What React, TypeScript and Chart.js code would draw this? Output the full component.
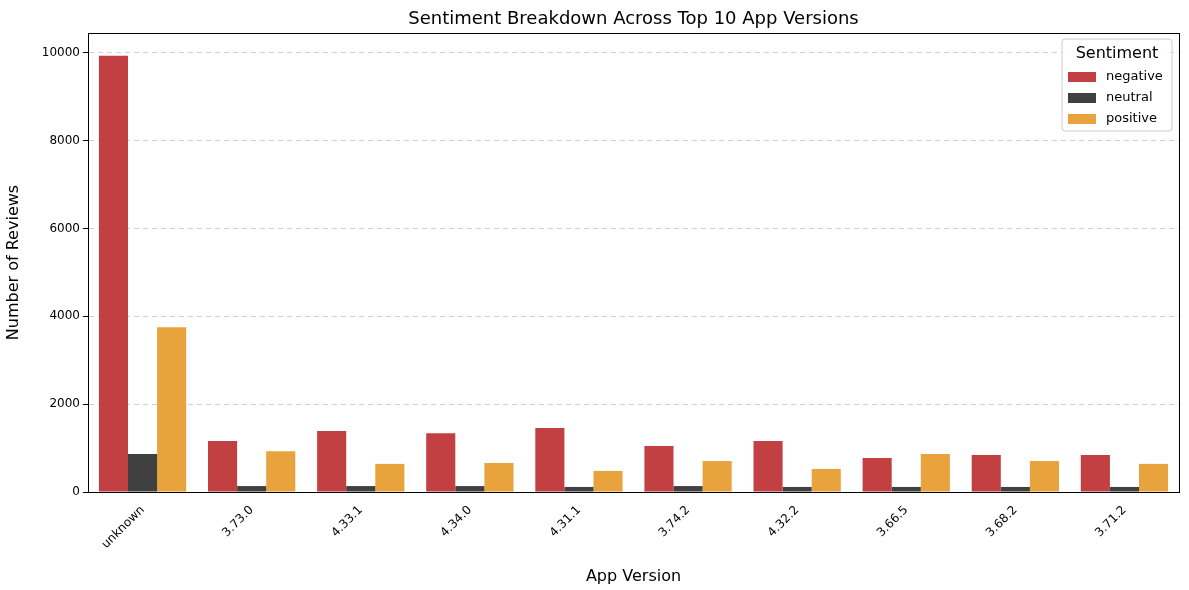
import React, { useEffect, useRef } from "react";
import { Chart, registerables } from "chart.js";
Chart.register(...registerables);

const categories = ["unknown","3.73.0","4.33.1","4.34.0","4.31.1","3.74.2","4.32.2","3.66.5","3.68.2","3.71.2"];
const negative = [9930,1160,1390,1340,1455,1045,1160,775,840,840];
const neutral = [865,135,135,135,115,135,115,115,115,115];
const positive = [3750,930,640,660,480,705,525,865,705,640];
const yTicks = [0,2000,4000,6000,8000,10000];
const colors = ["#c23f42","#404040","#e8a33c"];
const names = ["negative","neutral","positive"];

const deco = {
  id: "deco",
  afterDraw(chart: any) {
    const { ctx, chartArea: a } = chart;
    ctx.save();
    ctx.strokeStyle = "#000"; ctx.lineWidth = 1;
    ctx.strokeRect(a.left + 0.5, a.top + 0.5, a.right - a.left, a.bottom - a.top);
    ctx.fillStyle = "#000"; ctx.font = "18px 'DejaVu Sans'"; ctx.textAlign = "center"; ctx.textBaseline = "middle";
    ctx.fillText("Sentiment Breakdown Across Top 10 App Versions", (a.left + a.right) / 2, 19);
    // legend
    const w = 110, h = 92, x = a.right - w - 7, y = a.top + 6;
    ctx.fillStyle = "rgba(255,255,255,0.85)"; ctx.strokeStyle = "#ccc";
    ctx.beginPath(); ctx.roundRect(x, y, w, h, 3); ctx.fill(); ctx.stroke();
    ctx.fillStyle = "#000"; ctx.font = "16px 'DejaVu Sans'";
    ctx.fillText("Sentiment", x + w / 2, y + 15);
    ctx.font = "13px 'DejaVu Sans'"; ctx.textAlign = "left";
    names.forEach((n, i) => {
      const yy = y + 38 + i * 21;
      ctx.fillStyle = colors[i]; ctx.fillRect(x + 6, yy - 5, 28, 10);
      ctx.fillStyle = "#000"; ctx.fillText(n, x + 44, yy);
    });
    ctx.restore();
  },
};

export default function App() {
  const ref = useRef<HTMLCanvasElement>(null);
  useEffect(() => {
    document.body.style.margin = "0";
    const c = new Chart(ref.current!, {
      type: "bar",
      data: {
        labels: categories,
        datasets: [negative, neutral, positive].map((d, i) => ({
          label: names[i], data: d, backgroundColor: colors[i],
          categoryPercentage: 0.8, barPercentage: 1,
        })),
      },
      options: {
        animation: false, responsive: false,
        layout: { padding: { top: 33, right: 10, left: 0, bottom: 0 } },
        plugins: { legend: { display: false }, tooltip: { enabled: false } },
        scales: {
          x: {
            grid: { display: false },
            border: { color: "#000" },
            ticks: { color: "#000", font: { size: 12, family: "'DejaVu Sans'" }, maxRotation: 45, minRotation: 45 },
            title: { display: true, text: "App Version", color: "#000", font: { size: 16, family: "'DejaVu Sans'" } },
            afterFit: (s: any) => { s.height = 98; },
          },
          y: {
            min: 0, max: 10450,
            afterBuildTicks: (s: any) => { s.ticks = yTicks.map((v) => ({ value: v })); },
            grid: { color: "rgba(0,0,0,0.18)", tickColor: "#000", tickLength: 5 },
            border: { color: "#000", dash: [5, 4] },
            ticks: { color: "#000", font: { size: 12, family: "'DejaVu Sans'" }, callback: (v: any) => String(v) },
            title: { display: true, text: "Number of Reviews", color: "#000", font: { size: 16, family: "'DejaVu Sans'" } },
            afterFit: (s: any) => { s.width = 88; },
          },
        },
      },
      plugins: [deco],
    });
    return () => c.destroy();
  }, []);
  return <canvas ref={ref} width={1189} height={590} style={{ display: "block" }} />;
}
